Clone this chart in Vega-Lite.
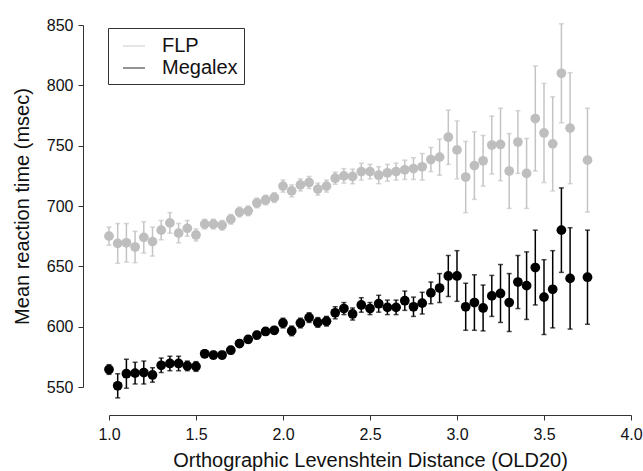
{
  "$schema": "https://vega.github.io/schema/vega-lite/v6.json",
  "autosize": {"type": "none"},
  "width": 522,
  "height": 362,
  "padding": {"left": 109, "top": 25, "right": 12, "bottom": 84},
  "background": "white",
  "config": {
    "view": {"stroke": null},
    "font": "Liberation Sans",
    "axis": {
      "grid": false,
      "domainColor": "#333333",
      "tickColor": "#333333",
      "labelColor": "#111111",
      "titleColor": "#111111",
      "labelFont": "Liberation Sans",
      "titleFont": "Liberation Sans",
      "labelFontSize": 16,
      "titleFontSize": 20,
      "titleFontWeight": "normal",
      "tickSize": 5,
      "labelFlush": false,
      "labelOverlap": false
    }
  },
  "data": {
    "values": [
      {"db": "FLP", "old": 1.0, "rt": 675, "lo": 667.5, "hi": 682.5},
      {"db": "FLP", "old": 1.05, "rt": 669, "lo": 652.5, "hi": 685.5},
      {"db": "FLP", "old": 1.1, "rt": 669.5, "lo": 653.5, "hi": 685.5},
      {"db": "FLP", "old": 1.15, "rt": 666, "lo": 653, "hi": 679},
      {"db": "FLP", "old": 1.2, "rt": 674, "lo": 661, "hi": 687},
      {"db": "FLP", "old": 1.25, "rt": 670.5, "lo": 658.5, "hi": 682.5},
      {"db": "FLP", "old": 1.3, "rt": 680, "lo": 672, "hi": 688},
      {"db": "FLP", "old": 1.35, "rt": 686, "lo": 677.5, "hi": 694.5},
      {"db": "FLP", "old": 1.4, "rt": 677.5, "lo": 669.5, "hi": 685.5},
      {"db": "FLP", "old": 1.45, "rt": 681.5, "lo": 675, "hi": 688},
      {"db": "FLP", "old": 1.5, "rt": 676, "lo": 671, "hi": 681},
      {"db": "FLP", "old": 1.55, "rt": 685, "lo": 681, "hi": 689},
      {"db": "FLP", "old": 1.6, "rt": 685, "lo": 681, "hi": 689},
      {"db": "FLP", "old": 1.65, "rt": 684, "lo": 680, "hi": 688},
      {"db": "FLP", "old": 1.7, "rt": 689, "lo": 685, "hi": 693},
      {"db": "FLP", "old": 1.75, "rt": 695, "lo": 691, "hi": 699},
      {"db": "FLP", "old": 1.8, "rt": 696, "lo": 692, "hi": 700},
      {"db": "FLP", "old": 1.85, "rt": 702.5, "lo": 698.5, "hi": 706.5},
      {"db": "FLP", "old": 1.9, "rt": 705, "lo": 701, "hi": 709},
      {"db": "FLP", "old": 1.95, "rt": 707, "lo": 703, "hi": 711},
      {"db": "FLP", "old": 2.0, "rt": 716.5, "lo": 711.5, "hi": 721.5},
      {"db": "FLP", "old": 2.05, "rt": 712.5, "lo": 707.5, "hi": 717.5},
      {"db": "FLP", "old": 2.1, "rt": 717.5, "lo": 712.5, "hi": 722.5},
      {"db": "FLP", "old": 2.15, "rt": 719.5, "lo": 714.5, "hi": 724.5},
      {"db": "FLP", "old": 2.2, "rt": 714, "lo": 709, "hi": 719},
      {"db": "FLP", "old": 2.25, "rt": 716.5, "lo": 711.5, "hi": 721.5},
      {"db": "FLP", "old": 2.3, "rt": 723, "lo": 718, "hi": 728},
      {"db": "FLP", "old": 2.35, "rt": 725, "lo": 719, "hi": 731},
      {"db": "FLP", "old": 2.4, "rt": 724.5, "lo": 718.5, "hi": 730.5},
      {"db": "FLP", "old": 2.45, "rt": 728.5, "lo": 721.5, "hi": 735.5},
      {"db": "FLP", "old": 2.5, "rt": 728.5, "lo": 722.5, "hi": 734.5},
      {"db": "FLP", "old": 2.55, "rt": 725.5, "lo": 718.5, "hi": 732.5},
      {"db": "FLP", "old": 2.6, "rt": 727.5, "lo": 720.5, "hi": 734.5},
      {"db": "FLP", "old": 2.65, "rt": 728.5, "lo": 721.5, "hi": 735.5},
      {"db": "FLP", "old": 2.7, "rt": 730, "lo": 722, "hi": 738},
      {"db": "FLP", "old": 2.75, "rt": 731, "lo": 722, "hi": 740},
      {"db": "FLP", "old": 2.8, "rt": 732.5, "lo": 721.5, "hi": 743.5},
      {"db": "FLP", "old": 2.85, "rt": 738.5, "lo": 728.5, "hi": 748.5},
      {"db": "FLP", "old": 2.9, "rt": 740.5, "lo": 725.5, "hi": 755.5},
      {"db": "FLP", "old": 2.95, "rt": 757, "lo": 734.5, "hi": 779.5},
      {"db": "FLP", "old": 3.0, "rt": 746.5, "lo": 722.5, "hi": 770.5},
      {"db": "FLP", "old": 3.05, "rt": 724, "lo": 694.5, "hi": 753.5},
      {"db": "FLP", "old": 3.1, "rt": 733.5, "lo": 705.5, "hi": 761.5},
      {"db": "FLP", "old": 3.15, "rt": 737.5, "lo": 716.5, "hi": 758.5},
      {"db": "FLP", "old": 3.2, "rt": 750.5, "lo": 726.5, "hi": 774.5},
      {"db": "FLP", "old": 3.25, "rt": 751, "lo": 721, "hi": 781},
      {"db": "FLP", "old": 3.3, "rt": 729, "lo": 698, "hi": 760},
      {"db": "FLP", "old": 3.35, "rt": 753, "lo": 727, "hi": 779},
      {"db": "FLP", "old": 3.4, "rt": 727, "lo": 698, "hi": 756},
      {"db": "FLP", "old": 3.45, "rt": 772.5, "lo": 729, "hi": 816},
      {"db": "FLP", "old": 3.5, "rt": 760.5, "lo": 719.5, "hi": 801.5},
      {"db": "FLP", "old": 3.55, "rt": 751.5, "lo": 712.5, "hi": 790.5},
      {"db": "FLP", "old": 3.6, "rt": 810, "lo": 769, "hi": 851},
      {"db": "FLP", "old": 3.65, "rt": 764.5, "lo": 718.5, "hi": 810.5},
      {"db": "FLP", "old": 3.75, "rt": 738, "lo": 695, "hi": 781},
      {"db": "Megalex", "old": 1.0, "rt": 564.5, "lo": 560.5, "hi": 568.5},
      {"db": "Megalex", "old": 1.05, "rt": 551, "lo": 541, "hi": 561},
      {"db": "Megalex", "old": 1.1, "rt": 561, "lo": 549, "hi": 573},
      {"db": "Megalex", "old": 1.15, "rt": 561.5, "lo": 552.5, "hi": 570.5},
      {"db": "Megalex", "old": 1.2, "rt": 562, "lo": 552.5, "hi": 571.5},
      {"db": "Megalex", "old": 1.25, "rt": 560, "lo": 554, "hi": 566},
      {"db": "Megalex", "old": 1.3, "rt": 568, "lo": 562, "hi": 574},
      {"db": "Megalex", "old": 1.35, "rt": 569.5, "lo": 563.5, "hi": 575.5},
      {"db": "Megalex", "old": 1.4, "rt": 569.5, "lo": 563.5, "hi": 575.5},
      {"db": "Megalex", "old": 1.45, "rt": 567.5, "lo": 563.5, "hi": 571.5},
      {"db": "Megalex", "old": 1.5, "rt": 567, "lo": 563, "hi": 571},
      {"db": "Megalex", "old": 1.55, "rt": 577.5, "lo": 574.5, "hi": 580.5},
      {"db": "Megalex", "old": 1.6, "rt": 576.5, "lo": 573.5, "hi": 579.5},
      {"db": "Megalex", "old": 1.65, "rt": 576.5, "lo": 573.5, "hi": 579.5},
      {"db": "Megalex", "old": 1.7, "rt": 580.5, "lo": 577.5, "hi": 583.5},
      {"db": "Megalex", "old": 1.75, "rt": 586, "lo": 583, "hi": 589},
      {"db": "Megalex", "old": 1.8, "rt": 589.5, "lo": 586.5, "hi": 592.5},
      {"db": "Megalex", "old": 1.85, "rt": 593, "lo": 590, "hi": 596},
      {"db": "Megalex", "old": 1.9, "rt": 596, "lo": 593, "hi": 599},
      {"db": "Megalex", "old": 1.95, "rt": 597, "lo": 594, "hi": 600},
      {"db": "Megalex", "old": 2.0, "rt": 603, "lo": 599, "hi": 607},
      {"db": "Megalex", "old": 2.05, "rt": 596.5, "lo": 592.5, "hi": 600.5},
      {"db": "Megalex", "old": 2.1, "rt": 603, "lo": 599, "hi": 607},
      {"db": "Megalex", "old": 2.15, "rt": 607.5, "lo": 603.5, "hi": 611.5},
      {"db": "Megalex", "old": 2.2, "rt": 603.5, "lo": 599.5, "hi": 607.5},
      {"db": "Megalex", "old": 2.25, "rt": 604.5, "lo": 600.5, "hi": 608.5},
      {"db": "Megalex", "old": 2.3, "rt": 611.5, "lo": 606.5, "hi": 616.5},
      {"db": "Megalex", "old": 2.35, "rt": 615, "lo": 610, "hi": 620},
      {"db": "Megalex", "old": 2.4, "rt": 610.5, "lo": 605.5, "hi": 615.5},
      {"db": "Megalex", "old": 2.45, "rt": 618, "lo": 612, "hi": 624},
      {"db": "Megalex", "old": 2.5, "rt": 615, "lo": 610, "hi": 620},
      {"db": "Megalex", "old": 2.55, "rt": 619, "lo": 612, "hi": 626},
      {"db": "Megalex", "old": 2.6, "rt": 616, "lo": 610, "hi": 622},
      {"db": "Megalex", "old": 2.65, "rt": 616, "lo": 610, "hi": 622},
      {"db": "Megalex", "old": 2.7, "rt": 621.5, "lo": 613.5, "hi": 629.5},
      {"db": "Megalex", "old": 2.75, "rt": 616.5, "lo": 608.5, "hi": 624.5},
      {"db": "Megalex", "old": 2.8, "rt": 619.5, "lo": 610.5, "hi": 628.5},
      {"db": "Megalex", "old": 2.85, "rt": 628, "lo": 619, "hi": 637},
      {"db": "Megalex", "old": 2.9, "rt": 632, "lo": 620, "hi": 644},
      {"db": "Megalex", "old": 2.95, "rt": 642, "lo": 625, "hi": 659},
      {"db": "Megalex", "old": 3.0, "rt": 642, "lo": 621, "hi": 663},
      {"db": "Megalex", "old": 3.05, "rt": 616.5, "lo": 597, "hi": 636},
      {"db": "Megalex", "old": 3.1, "rt": 620, "lo": 597, "hi": 643},
      {"db": "Megalex", "old": 3.15, "rt": 615.5, "lo": 596.5, "hi": 634.5},
      {"db": "Megalex", "old": 3.2, "rt": 625.5, "lo": 608.5, "hi": 642.5},
      {"db": "Megalex", "old": 3.25, "rt": 627.5, "lo": 603.5, "hi": 651.5},
      {"db": "Megalex", "old": 3.3, "rt": 620, "lo": 596, "hi": 644},
      {"db": "Megalex", "old": 3.35, "rt": 637, "lo": 615, "hi": 659},
      {"db": "Megalex", "old": 3.4, "rt": 634, "lo": 606, "hi": 662},
      {"db": "Megalex", "old": 3.45, "rt": 649, "lo": 618, "hi": 680},
      {"db": "Megalex", "old": 3.5, "rt": 624.5, "lo": 593.5, "hi": 655.5},
      {"db": "Megalex", "old": 3.55, "rt": 631, "lo": 599, "hi": 663},
      {"db": "Megalex", "old": 3.6, "rt": 680, "lo": 645, "hi": 715},
      {"db": "Megalex", "old": 3.65, "rt": 640, "lo": 598, "hi": 682},
      {"db": "Megalex", "old": 3.75, "rt": 641, "lo": 602, "hi": 680}
    ]
  },
  "layer": [
    {
      "mark": {"type": "errorbar", "ticks": {"size": 5}, "thickness": 1.5},
      "encoding": {
        "x": {
          "field": "old", "type": "quantitative",
          "scale": {"domain": [1, 4], "nice": false, "zero": false},
          "axis": {
            "values": [1, 1.5, 2, 2.5, 3, 3.5, 4],
            "format": ".1f",
            "offset": 28,
            "labelPadding": 6,
            "title": "Orthographic Levenshtein Distance (OLD20)",
            "titlePadding": 8
          }
        },
        "y": {
          "field": "lo", "type": "quantitative",
          "scale": {"domain": [550, 850], "nice": false, "zero": false},
          "axis": {
            "values": [550, 600, 650, 700, 750, 800, 850],
            "offset": 26,
            "labelPadding": 5,
            "title": "Mean reaction time (msec)",
            "titlePadding": 14
          }
        },
        "y2": {"field": "hi"},
        "color": {
          "field": "db", "type": "nominal",
          "scale": {"domain": ["FLP", "Megalex"], "range": ["#c4c4c4", "#000000"]},
          "legend": {
            "title": null,
            "orient": "none",
            "legendX": -1,
            "legendY": 3,
            "symbolType": "stroke",
            "symbolSize": 484,
            "symbolOffset": 8,
            "symbolStrokeWidth": 1.2,
            "labelFontSize": 20,
            "labelFont": "Liberation Sans",
            "labelColor": "#111111",
            "labelOffset": 16,
            "rowPadding": 0,
            "padding": 6,
            "strokeColor": "#333333"
          }
        }
      }
    },
    {
      "mark": {"type": "point", "filled": true, "size": 95, "opacity": 1},
      "encoding": {
        "x": {"field": "old", "type": "quantitative"},
        "y": {"field": "rt", "type": "quantitative"},
        "fill": {
          "field": "db", "type": "nominal",
          "scale": {"domain": ["FLP", "Megalex"], "range": ["#bebebe", "#000000"]},
          "legend": null
        }
      }
    }
  ]
}
